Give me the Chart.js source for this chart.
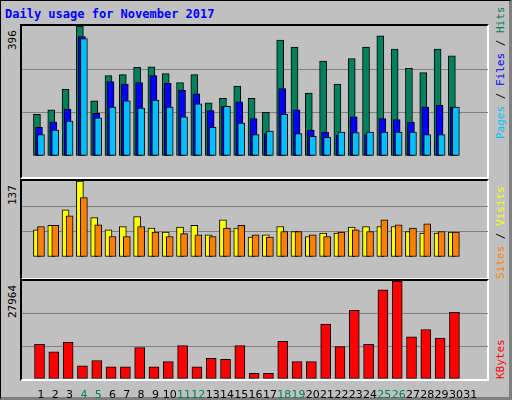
<!DOCTYPE html>
<html>
<head>
<meta charset="utf-8">
<script src="https://cdn.jsdelivr.net/npm/chart.js@4"></script>
<style>
  body { margin: 0; width: 512px; height: 400px; overflow: hidden; background: #fff; }
  #frame { position: absolute; left: 0; top: 0; width: 508px; height: 396px; background: #c0c0c0;
           border-left: 1px solid #000; border-top: 1px solid #000; border-right: 3px solid #808080; border-bottom: 3px solid #808080; }
  .panel { position: absolute; left: 20px; width: 469px; border-top: 2px solid #000; border-left: 2px solid #000;
           border-right: 2px solid #fff; border-bottom: 2px solid #fff; box-sizing: border-box; }
  canvas { position: absolute; }
  .t { position: absolute; font-family: "DejaVu Sans Mono", monospace; white-space: nowrap; }
  .rot { transform-origin: left top; transform: rotate(-90deg); }
</style>
</head>
<body>
<div id="frame"></div>
<div class="t" style="left:5px;top:7px;font-size:12px;font-weight:bold;color:#0000ff">Daily usage for November 2017</div>
<div class="panel" style="top:24px;height:155px"></div>
<div class="panel" style="top:179px;height:101px"></div>
<div class="panel" style="top:279px;height:102px"></div>
<div class="t rot" style="left:6px;top:50px;font-size:11px">396</div>
<div class="t rot" style="left:6px;top:205px;font-size:11px">137</div>
<div class="t rot" style="left:6px;top:318px;font-size:11px">27964</div>
<div class="t rot" style="left:494px;top:139px;font-size:11px"><span style="color:#00c0ff">Pages</span> / <span style="color:#0000ff">Files</span> / <span style="color:#00805c">Hits</span></div>
<div class="t rot" style="left:494px;top:279px;font-size:11px"><span style="color:#ff8000">Sites</span> / <span style="color:#ffff00">Visits</span></div>
<div class="t rot" style="left:494px;top:379px;font-size:11px;color:#ff0000">KBytes</div>
<canvas id="c1" style="left:22px;top:26px" width="466" height="151"></canvas>
<canvas id="c2" style="left:22px;top:181px" width="466" height="97"></canvas>
<canvas id="c3" style="left:22px;top:281px" width="466" height="119"></canvas>
<script>
const days = ['1','2','3','4','5','6','7','8','9','10','11','12','13','14','15','16','17','18','19','20','21','22','23','24','25','26','27','28','29','30','31'];
const weekend = ['4','5','11','12','18','19','25','26'];
const hits = [127,141,203,396,168,245,248,270,272,251,224,248,162,176,213,176,133,353,332,192,289,219,297,332,366,326,267,254,326,305,0];
const files = [87,103,143,364,130,227,219,224,245,221,200,189,138,151,165,114,68,205,141,79,73,63,119,65,114,111,103,149,154,149,0];
const pages = [65,79,106,358,116,149,168,146,170,149,119,159,87,151,100,65,76,127,68,60,57,73,71,73,73,73,73,65,65,149,0];
const visits = [49,57,85,137,71,49,55,73,52,45,54,57,40,67,52,36,40,55,46,37,43,43,54,55,55,55,46,43,43,45,0];
const sites = [55,57,74,107,58,37,37,55,45,37,42,40,37,52,57,40,36,46,46,40,37,45,49,46,67,58,52,60,46,45,0];
const kbytes = [9865,7730,10475,3763,5288,3458,3458,8950,3458,4983,9560,3458,5898,5593,9560,1627,1627,10780,4983,4983,15661,9255,19627,9865,25424,27964,12000,14136,11695,19017,0];

function series(values, off, color, width, order) {
    return {
        data: values.map((v, i) => ({ x: i + 1 + off, y: v })),
        backgroundColor: color,
        borderColor: '#000',
        borderWidth: 1,
        borderSkipped: false,
        barThickness: width,
        grouped: false,
        order: order
    };
}

// Một khung biểu đồ: trục x tuyến tính theo ngày, lưới ngang chia 3
function makeChart(id, datasets, max, showX) {
    return new Chart(document.getElementById(id), {
        type: 'bar',
        data: { datasets: datasets },
        options: {
            responsive: false,
            animation: false,
            layout: { padding: 0 },
            plugins: { legend: { display: false }, tooltip: { enabled: false } },
            scales: {
                x: {
                    type: 'linear', min: 0.2, max: 31.72,
                    display: showX,
                    grid: { display: false },
                    border: { display: false },
                    afterBuildTicks: (axis) => { axis.ticks = days.map((d, i) => ({ value: i + 1 })); },
                    afterFit: (axis) => { axis.height = 21; },
                    ticks: {
                        autoSkip: false, maxRotation: 0, padding: 2,
                        font: { family: 'DejaVu Sans', size: 11 },
                        callback: (v) => days[v - 1],
                        color: (ctx) => weekend.includes(days[ctx.tick.value - 1]) ? '#00805c' : '#000'
                    }
                },
                y: {
                    min: 0, max: max,
                    afterBuildTicks: (axis) => { axis.ticks = [0, 1, 2, 3].map(k => ({ value: max * k / 3 })); },
                    afterFit: (axis) => { axis.width = 0; },
                    grid: { color: (ctx) => (ctx.index === 1 || ctx.index === 2) ? '#808080' : 'rgba(0,0,0,0)', lineWidth: 1, drawTicks: false },
                    border: { display: false },
                    ticks: { display: false }
                }
            }
        }
    });
}

makeChart('c1', [
    series(hits, -0.28, '#00805c', 7, 3),
    series(files, -0.14, '#0000ff', 7, 2),
    series(pages, 0.0, '#00c0ff', 7, 1)
], 396, false);
makeChart('c2', [
    series(visits, -0.28, '#ffff00', 7, 2),
    series(sites, 0.0, '#ff8000', 7, 1)
], 137, false);
makeChart('c3', [
    series(kbytes, -0.1, '#ff0000', 10, 1)
], 27964, true);
</script>
</body>
</html>
